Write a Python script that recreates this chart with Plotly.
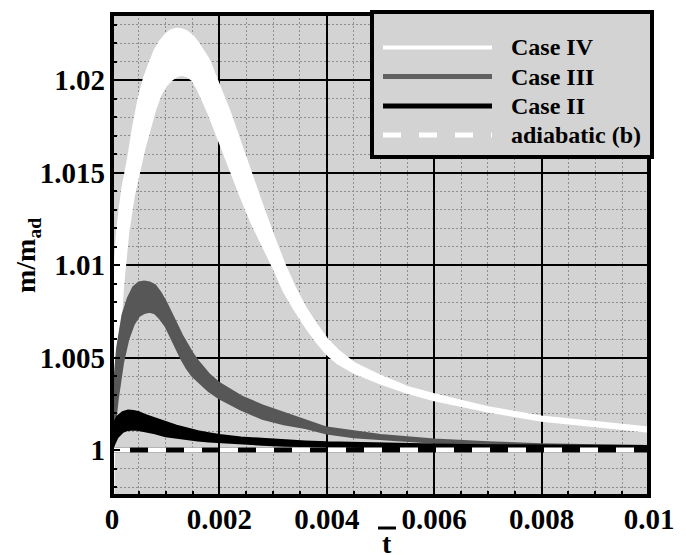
import plotly.graph_objects as go

# ---------------- data ----------------
x_ticks = [0, 0.002, 0.004, 0.006, 0.008, 0.01]
x_labels = ["0", "0.002", "0.004", "0.006", "0.008", "0.01"]
y_ticks = [1.0, 1.005, 1.01, 1.015, 1.02]
y_labels = ["1", "1.005", "1.01", "1.015", "1.02"]

# Case IV (white band: upper / lower envelope)
t_iv = [0.00002, 0.00003, 0.00006, 0.0001, 0.00015, 0.0002, 0.0003, 0.0004, 0.0005,
        0.0006, 0.0007, 0.0008, 0.0009, 0.001, 0.0011, 0.0012, 0.0013, 0.0014,
        0.0015, 0.0016, 0.0018, 0.002, 0.0022, 0.0024, 0.0026, 0.0028, 0.003,
        0.0032, 0.0034, 0.0036, 0.0038, 0.004, 0.0042, 0.0045, 0.005, 0.0055, 0.006,
        0.007, 0.008, 0.009, 0.01]
m_iv_upper = [0.9965, 1.0075, 1.0102, 1.0118, 1.0131, 1.0142, 1.0157, 1.0175, 1.0190,
              1.0201, 1.0209, 1.0216, 1.0221, 1.02245, 1.02268, 1.02276, 1.02273, 1.0226,
              1.02237, 1.0220, 1.0211, 1.0197, 1.0182, 1.0165, 1.0148, 1.0132, 1.0116,
              1.0101, 1.0088, 1.0077, 1.0068, 1.0060, 1.0054, 1.0047, 1.0040, 1.0034, 1.0030,
              1.0023, 1.0018, 1.0015, 1.0012]
m_iv_lower = [0.9965, 0.9995, 1.0025, 1.0042, 1.0065, 1.0088, 1.0118, 1.0137, 1.0150,
              1.0163, 1.0174, 1.0184, 1.0192, 1.0197, 1.0200, 1.02022, 1.0203, 1.02022,
              1.0200, 1.0195, 1.0182, 1.0167, 1.0152, 1.0137, 1.0123, 1.0111, 1.0099,
              1.0086, 1.0076, 1.0067, 1.0059, 1.0052, 1.0047, 1.0042, 1.0036, 1.0031, 1.0027,
              1.0021, 1.0016, 1.0013, 1.0010]

# Case III (dark grey band)
t_iii = [0, 0.00002, 0.00005, 0.0001, 0.0002, 0.0003, 0.0004, 0.0005, 0.0006, 0.0007,
         0.0008, 0.0009, 0.001, 0.0011, 0.0012, 0.0013, 0.0014, 0.0015, 0.0016, 0.0018,
         0.002, 0.0024, 0.0028, 0.0032, 0.0036, 0.004, 0.0045, 0.005, 0.0055, 0.006,
         0.007, 0.008, 0.009, 0.01]
m_iii_upper = [1.0000, 1.0020, 1.0038, 1.0055, 1.0073, 1.0082, 1.0088, 1.00905, 1.0091, 1.00905,
               1.0089, 1.0085, 1.0080, 1.0074, 1.0068, 1.0062, 1.0057, 1.0052, 1.0048, 1.0041,
               1.0036, 1.0029, 1.0024, 1.0020, 1.0016, 1.0012, 1.0010, 1.0008, 1.00068, 1.00055,
               1.0004, 1.0003, 1.00025, 1.0002]
m_iii_lower = [1.0000, 1.0005, 1.0013, 1.0027, 1.0047, 1.0060, 1.0068, 1.00725, 1.00742, 1.00748,
               1.0074, 1.0071, 1.0067, 1.0061, 1.0055, 1.0049, 1.0044, 1.0040, 1.0037, 1.0032,
               1.0028, 1.0022, 1.0017, 1.0014, 1.0012, 1.0009, 1.0007, 1.0006, 1.0005, 1.0004,
               1.0003, 1.00025, 1.0002, 1.0002]

# Case II (black band)
t_ii = [0, 0.00002, 0.00005, 0.0001, 0.0002, 0.0003, 0.0004, 0.0005, 0.0006, 0.0008,
        0.001, 0.0012, 0.0014, 0.0016, 0.0018, 0.002, 0.0024, 0.0028, 0.0032, 0.0036,
        0.004, 0.005, 0.006, 0.007, 0.008, 0.009, 0.01]
m_ii_upper = [1.0000, 1.0010, 1.0015, 1.0018, 1.00203, 1.00212, 1.0021, 1.00203, 1.0019, 1.0017,
              1.0015, 1.0013, 1.00115, 1.0010, 1.0009, 1.0008, 1.00066, 1.00058, 1.0005, 1.00045,
              1.0004, 1.00033, 1.00028, 1.00025, 1.00022, 1.0002, 1.0002]
m_ii_lower = [1.0000, 1.0002, 1.0004, 1.0007, 1.0010, 1.0011, 1.00112, 1.0011, 1.00105, 1.00092,
              1.00075, 1.00067, 1.0006, 1.00053, 1.00048, 1.00044, 1.00036, 1.0003, 1.00025, 1.00022,
              1.0002, 1.00016, 1.00014, 1.00012, 1.0001, 1.0001, 1.0001]

# adiabatic reference
t_adiab = [0, 0.01]
m_adiab = [1.0, 1.0]

legend_names = ["Case IV", "Case III", "Case II", "adiabatic (b)"]

# ---------------- styling ----------------
W, H = 686, 555
ML, MR, MT, MB = 112, 37, 14, 59
PW, PH = W - ML - MR, H - MT - MB
BG = "#d3d3d3"
C_IV, C_III, C_II = "#ffffff", "#575757", "#000000"
FONT = "Liberation Serif"


def px_x(p):
    return (p - ML) / PW


def px_y(p):
    return (H - MB - p) / PH


def band(t, up, lo, color, name):
    return go.Scatter(x=list(t) + list(t)[::-1], y=list(up) + list(lo)[::-1],
                      mode="lines", fill="toself", fillcolor=color,
                      line=dict(color=color, width=2.5), name=name,
                      showlegend=False, hoverinfo="skip")


fig = go.Figure()
fig.add_trace(band(t_iv, m_iv_upper, m_iv_lower, C_IV, "Case IV"))
fig.add_trace(band(t_iii, m_iii_upper, m_iii_lower, C_III, "Case III"))
fig.add_trace(band(t_ii, m_ii_upper, m_ii_lower, C_II, "Case II"))
fig.add_trace(go.Scatter(x=t_adiab, y=m_adiab, mode="lines",
                         line=dict(color="black", width=5), showlegend=False, hoverinfo="skip"))
fig.add_trace(go.Scatter(x=t_adiab, y=m_adiab, mode="lines",
                         line=dict(color="white", width=5, dash="18px,18px"),
                         showlegend=False, hoverinfo="skip"))

tickfont = dict(family=FONT, size=29, color="black", weight="bold")
fig.update_xaxes(range=[0, 0.01], tickmode="array", tickvals=x_ticks, ticktext=x_labels,
                 showgrid=True, gridcolor="black", gridwidth=2, zeroline=False,
                 ticks="inside", ticklen=8, tickwidth=2, tickcolor="black",
                 tickfont=tickfont, showline=False, ticklabelstandoff=3,
                 minor=dict(tick0=0, dtick=0.0005, ticks="inside", ticklen=5, tickwidth=1.5,
                            tickcolor="black", showgrid=True, gridcolor="#8e8e8e",
                            gridwidth=1, griddash="2px,2px"))
fig.update_yaxes(range=[0.997514, 1.023568], tickmode="array", tickvals=y_ticks, ticktext=y_labels,
                 showgrid=True, gridcolor="black", gridwidth=2, zeroline=False,
                 ticks="inside", ticklen=8, tickwidth=2, tickcolor="black",
                 tickfont=tickfont, showline=False, ticklabelstandoff=6,
                 minor=dict(tick0=1.0, dtick=0.001, ticks="inside", ticklen=5, tickwidth=1.5,
                            tickcolor="black", showgrid=True, gridcolor="#8e8e8e",
                            gridwidth=1, griddash="2px,2px"))

shapes = [dict(type="rect", xref="paper", yref="paper", x0=0, x1=1, y0=0, y1=1,
               line=dict(color="black", width=4), layer="above")]
# legend box
shapes.append(dict(type="rect", xref="paper", yref="paper",
                   x0=px_x(372), x1=px_x(652), y0=px_y(157), y1=px_y(12),
                   fillcolor=BG, line=dict(color="black", width=4), layer="above"))
rows = [47.5, 76.5, 106, 135]
styles = [dict(color=C_IV, width=4), dict(color="#606060", width=5),
          dict(color="black", width=5), dict(color="white", width=5, dash="18px,18px")]
annotations = []
for r, st, nm in zip(rows, styles, legend_names):
    shapes.append(dict(type="line", xref="paper", yref="paper",
                       x0=px_x(383), x1=px_x(492), y0=px_y(r), y1=px_y(r),
                       line=st, layer="above"))
    annotations.append(dict(xref="paper", yref="paper", x=px_x(509), y=px_y(r),
                            xanchor="left", yanchor="middle", showarrow=False, text=nm,
                            font=dict(family=FONT, size=24, color="black", weight="bold")))
# overbar of the x title
shapes.append(dict(type="line", xref="paper", yref="paper",
                   x0=px_x(378), x1=px_x(396), y0=px_y(528), y1=px_y(528),
                   line=dict(color="black", width=3)))
annotations.append(dict(xref="paper", yref="paper", x=px_x(387), y=px_y(543),
                        xanchor="center", yanchor="middle", showarrow=False, text="t",
                        font=dict(family=FONT, size=28, color="black", weight="bold")))
annotations.append(dict(xref="paper", yref="paper", x=px_x(27), y=px_y(256),
                        xanchor="center", yanchor="middle", showarrow=False, textangle=-90,
                        text="m/m<sub>ad</sub>",
                        font=dict(family=FONT, size=28, color="black", weight="bold")))

fig.update_layout(width=W, height=H, margin=dict(l=ML, r=MR, t=MT, b=MB),
                  plot_bgcolor=BG, paper_bgcolor="white", showlegend=False,
                  shapes=shapes, annotations=annotations)

fig.write_html("out.html")
